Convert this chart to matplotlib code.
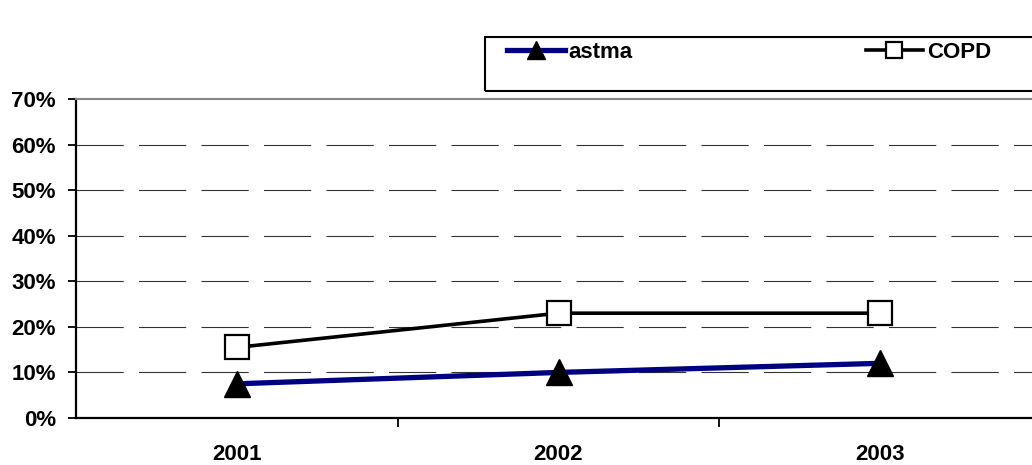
import matplotlib
matplotlib.use("Agg")
from matplotlib import pyplot as plt
from matplotlib.patches import Rectangle
from matplotlib.ticker import FixedLocator, PercentFormatter


years = ["2001", "2002", "2003"]
astma = [7.5, 10.0, 12.0]
copd = [15.5, 23.0, 23.0]
y_ticks = [0, 10, 20, 30, 40, 50, 60, 70]

plt.rcParams['font.family'] = ['Liberation Sans', 'DejaVu Sans']
plt.rcParams['font.weight'] = 'bold'
plt.rcParams['lines.scale_dashes'] = False

W, H = 1032, 465
fig = plt.figure(figsize=(W / 100, H / 100), dpi=100)
ax = fig.add_axes([76 / W, 1 - 418 / H, 965 / W, 319 / H])

x = list(range(len(years)))

# gridlines
for v in y_ticks[1:-1]:
    ax.axhline(v, color='#333333', lw=0.8, ls=(0, (34, 11)), zorder=1)

ax.plot(x, astma, color='#000080', lw=3.8, marker='^', ms=19,
        mfc='black', mec='black', label='astma', zorder=3)
ax.plot(x, copd, color='black', lw=2.6, marker='s', ms=17,
        mfc='white', mec='black', mew=1.6, label='COPD', zorder=4)

ax.set_xlim(-0.5, 2.5)
ax.set_ylim(0, 70)
ax.set_yticks(y_ticks)
ax.yaxis.set_major_formatter(PercentFormatter(decimals=0))
ax.set_xticks(x)
ax.set_xticklabels(years)
ax.xaxis.set_minor_locator(FixedLocator([0.5, 1.5]))

ax.tick_params(axis='y', labelsize=16, length=6, width=1.3, pad=8.5)
ax.tick_params(axis='x', which='major', labelsize=16, length=0, pad=19)
ax.tick_params(axis='x', which='minor', length=6.5, width=1.3, direction='out')

for side in ['left', 'bottom']:
    ax.spines[side].set_linewidth(1.6)
    ax.spines[side].set_color('black')
ax.spines['top'].set_color('#888888')
ax.spines['top'].set_linewidth(1.5)
ax.spines['right'].set_visible(False)

# legend box
fig.add_artist(Rectangle((485 / W, 1 - 91 / H), 0.6, 54 / H,
                         transform=fig.transFigure, fill=False,
                         lw=1.5, ec='black'))
leg = fig.legend(loc='center left', bbox_to_anchor=(507 / W, 1 - 52 / H),
                 ncol=2, frameon=False, fontsize=16, handlelength=2.6,
                 handletextpad=0.15, columnspacing=10.5, borderpad=0,
                 borderaxespad=0, markerscale=0.7)

fig.savefig("out.png", dpi=100)
